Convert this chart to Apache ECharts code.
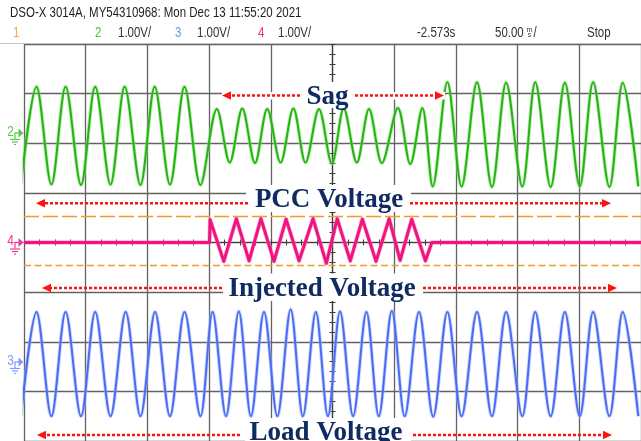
<!DOCTYPE html>
<html>
<head>
<meta charset="utf-8">
<script src="https://cdn.jsdelivr.net/npm/echarts@6/dist/echarts.min.js"></script>
<style>
  html, body { margin: 0; padding: 0; background: #ffffff; }
  #scope { width: 641px; height: 441px; }
</style>
</head>
<body>
<div id="scope"></div>
<script>
// Horizontal axis: time in ms (50 ms/div). Vertical axis: divisions (1.00 V/div).
// Each trace is listed as its turning points (time, volts relative to the channel ground).

// Channel 2 - PCC voltage (green)
const ch2Time = [-252.4, -239.9, -227.8, -216.3, -203.8, -192.3, -179.9, -168.4, -155.6, -144.1,
  -131.7, -119.9, -107.0, -93.7, -83.3, -73.1, -62.8, -52.9, -42.1, -31.7,
  -21.9, -11.0, -0.5, 9.1, 19.7, 29.6, 40.0, 53.0, 63.0, 72.8,
  81.2, 93.1, 104.6, 117.1, 129.2, 140.7, 153.8, 164.3, 176.8, 188.3,
  200.4, 211.2, 224.4, 235.2, 247.8];
const ch2Volts = [-0.99, 0.98, -0.99, 0.98, -1.00, 0.98, -0.99, 0.98, -1.00, 0.98,
  -0.99, 0.98, -1.00, 0.53, -0.55, 0.54, -0.56, 0.53, -0.55, 0.54,
  -0.55, 0.53, -0.57, 0.54, -0.55, 0.53, -0.56, 0.55, -0.58, 0.55,
  -1.03, 1.07, -1.03, 1.07, -1.04, 1.06, -1.03, 1.07, -1.04, 1.06,
  -1.03, 1.07, -1.04, 1.06, -1.03];

// Channel 4 - injected voltage (magenta)
const ch4Time = [-250, -99.7, -99.2, -88.1, -77.9, -67.6, -58.0, -47.4, -37.6, -27.1,
  -15.8, -5.0, 3.8, 14.4, 24.2, 35.3, 45.9, 54.8, 64.2, 75.3, 80.5, 250];
const ch4Volts = [0, 0, 0.46, -0.38, 0.48, -0.37, 0.48, -0.38, 0.47, -0.37,
  0.48, -0.42, 0.48, -0.37, 0.47, -0.38, 0.48, -0.36, 0.47, -0.37, 0, 0];

// Channel 3 - load voltage (blue)
const ch3Time = [-252.4, -239.9, -227.8, -216.3, -203.8, -192.3, -179.9, -167.6, -155.6, -143.8,
  -131.7, -119.9, -107.0, -97.2, -86.3, -75.9, -66.1, -55.5, -44.7, -33.9,
  -24.0, -13.5, -3.7, 6.1, 16.7, 27.5, 37.5, 48.1, 58.5, 70.1,
  81.6, 93.1, 104.6, 117.1, 129.2, 140.7, 153.8, 164.3, 176.8, 188.3,
  200.4, 211.2, 224.4, 235.2, 247.8];
const ch3Volts = [-1.05, 1.05, -1.05, 1.05, -1.05, 1.05, -1.05, 1.05, -1.05, 1.05,
  -1.05, 1.05, -1.05, 1.05, -1.05, 1.06, -1.05, 1.05, -1.05, 1.10,
  -1.05, 1.05, -1.05, 1.06, -1.05, 1.05, -1.05, 1.07, -1.05, 1.05,
  -1.06, 1.05, -1.05, 1.05, -1.05, 1.05, -1.05, 1.05, -1.05, 1.05,
  -1.05, 1.05, -1.05, 1.05, -1.05];

// Channel ground positions (divisions from screen centre)
const ch2Offset = 2.16;
const ch4Offset = 0;
const ch3Offset = -2.45;

// Channel 4 limit lines (divisions)
const ch4Limits = [0.52, -0.45];

// Header readouts
const headerTitle = 'DSO-X 3014A, MY54310968: Mon Dec 13 11:55:20 2021';
const channelScales = ['1.00V/', '1.00V/', '1.00V/'];
const timeDelay = '-2.573s';
const timeScale = '50.00';
const runState = 'Stop';

function trace(times, volts, offset) {
  return times.map((t, i) => [t, volts[i] + offset]);
}

const GRID = { left: 24, top: 44, width: 624, height: 398 };
const gridColor = '#626262';
const axisColor = '#3c3c3c';

const axisCommon = {
  type: 'value', min: -250, max: 250, interval: 50,
  axisLabel: { show: false }
};

const xAxes = [
  Object.assign({}, axisCommon, {
    position: 'bottom',
    axisLine: { show: true, onZero: true, lineStyle: { color: axisColor, width: 1.2 } },
    axisTick: { show: true, length: 3, lineStyle: { color: axisColor, width: 1 } },
    minorTick: { show: true, splitNumber: 4, length: 3, lineStyle: { color: axisColor, width: 1 } },
    splitLine: { show: true, lineStyle: { color: gridColor, width: 1.3 } }
  }),
  Object.assign({}, axisCommon, {
    position: 'top',
    axisLine: { show: false, onZero: true },
    axisTick: { show: true, length: 3, lineStyle: { color: axisColor, width: 1 } },
    minorTick: { show: true, splitNumber: 4, length: 3, lineStyle: { color: axisColor, width: 1 } },
    splitLine: { show: false }
  })
];

const yCommon = { type: 'value', min: -4, max: 4, interval: 1, axisLabel: { show: false } };
const yAxes = [
  Object.assign({}, yCommon, {
    position: 'left',
    axisLine: { show: true, onZero: true, lineStyle: { color: axisColor, width: 1.2 } },
    axisTick: { show: true, length: 3, lineStyle: { color: axisColor, width: 1 } },
    minorTick: { show: true, splitNumber: 5, length: 3, lineStyle: { color: axisColor, width: 1 } },
    splitLine: { show: true, lineStyle: { color: gridColor, width: 1.3 } }
  }),
  Object.assign({}, yCommon, {
    position: 'right',
    axisLine: { show: false, onZero: true },
    axisTick: { show: true, length: 3, lineStyle: { color: axisColor, width: 1 } },
    minorTick: { show: true, splitNumber: 5, length: 3, lineStyle: { color: axisColor, width: 1 } },
    splitLine: { show: false }
  })
];

function lineSeries(data, color, width, smooth, z, opacity) {
  return {
    type: 'line', data: data, xAxisIndex: 0, yAxisIndex: 0,
    showSymbol: false, symbol: 'none', smooth: smooth, silent: true,
    lineStyle: { color: color, width: width, opacity: opacity == null ? 1 : opacity, join: 'round' },
    z: z, animation: false
  };
}

const ch2Data = trace(ch2Time, ch2Volts, ch2Offset);
const ch3Data = trace(ch3Time, ch3Volts, ch3Offset);
const ch4Data = trace(ch4Time, ch4Volts, ch4Offset);

const ch4Main = lineSeries(ch4Data, '#ef1480', 3.0, false, 5);
ch4Main.markLine = {
  silent: true, symbol: 'none', animation: false,
  label: { show: false },
  data: [
    { yAxis: ch4Limits[0], lineStyle: { color: '#f39a2a', width: 1.4, type: [15, 4] } },
    { yAxis: ch4Limits[1], lineStyle: { color: '#f39a2a', width: 1.4, type: [7, 3.5] } }
  ]
};

const series = [
  lineSeries(ch2Data, '#8fdc82', 3.8, 0.32, 3, 0.55),
  lineSeries(ch2Data, '#22b510', 2.0, 0.32, 4),
  lineSeries(ch4Data, '#f57ab3', 4.4, false, 4, 0.55),
  ch4Main,
  lineSeries(ch3Data, '#a3b6fa', 3.8, 0.32, 3, 0.55),
  lineSeries(ch3Data, '#4a6cf4', 2.0, 0.32, 4)
];

// ---- overlay: header, channel markers, labels and arrows ----
const hdrFont = '14px "Liberation Sans", Arial, sans-serif';
const hdrScale = 0.82;
const smallFont = '7px "Liberation Sans", Arial, sans-serif';
const labelFont = 'bold 27px "Liberation Serif", "DejaVu Serif", serif';
const labelColor = '#0f2b62';
const arrowColor = '#ff1212';

function txt(text, x, y, font, fill, align, z, scaleX) {
  return {
    type: 'text', x: x, y: y, z: z || 120, silent: true, scaleX: scaleX || 1,
    style: { text: text, font: font, fill: fill, align: align || 'left', textAlign: align || 'left',
      verticalAlign: 'middle', textVerticalAlign: 'middle' }
  };
}

function hdr(text, x, y, fill) {
  return txt(text, x, y, hdrFont, fill, 'left', 120, hdrScale);
}

function whiteBox(x1, y1, x2, y2) {
  return { type: 'rect', z: 105, silent: true,
    shape: { x: x1, y: y1, width: x2 - x1, height: y2 - y1 }, style: { fill: '#ffffff' } };
}

function arrow(tailX, tipX, y) {
  const dir = tipX > tailX ? 1 : -1;
  const headLen = 9, half = 4.2;
  return [
    { type: 'line', z: 110, silent: true,
      shape: { x1: tailX, y1: y, x2: tipX - dir * headLen, y2: y },
      style: { stroke: arrowColor, lineWidth: 2.4, lineDash: [3, 2] } },
    { type: 'polygon', z: 111, silent: true,
      shape: { points: [[tipX, y], [tipX - dir * headLen, y - half], [tipX - dir * headLen, y + half]] },
      style: { fill: arrowColor } }
  ];
}

function channelMarker(label, y, color) {
  const s = { stroke: color, lineWidth: 1.2 };
  return [
    txt(label, 10.5, y - 1, '14px "Liberation Sans", sans-serif', color, 'center', 130, 0.85),
    { type: 'line', z: 130, silent: true, shape: { x1: 14.5, y1: y, x2: 19, y2: y }, style: s },
    { type: 'polygon', z: 130, silent: true, shape: { points: [[18.5, y - 4.5], [23.5, y], [18.5, y + 4.5]] }, style: { fill: color } },
    { type: 'line', z: 130, silent: true, shape: { x1: 15, y1: y, x2: 15, y2: y + 6 }, style: s },
    { type: 'line', z: 130, silent: true, shape: { x1: 10, y1: y + 6.5, x2: 20, y2: y + 6.5 }, style: s },
    { type: 'line', z: 130, silent: true, shape: { x1: 12, y1: y + 9, x2: 18, y2: y + 9 }, style: s },
    { type: 'line', z: 130, silent: true, shape: { x1: 14, y1: y + 11.5, x2: 16, y2: y + 11.5 }, style: s }
  ];
}

const graphics = [].concat(
  // header
  [
    { type: 'rect', z: 100, silent: true, shape: { x: 0, y: 0, width: 641, height: 43 }, style: { fill: '#ffffff' } },
    { type: 'line', z: 101, silent: true, shape: { x1: 0, y1: 43.5, x2: 641, y2: 43.5 }, style: { stroke: '#c4c4c4', lineWidth: 1 } },
    hdr(headerTitle, 10, 13.4, '#1e1e1e'),
    hdr('1', 13, 33.4, '#f7a53a'),
    hdr('2', 95, 33.4, '#4cc23a'),
    hdr(channelScales[0], 118, 33.4, '#333333'),
    hdr('3', 175, 33.4, '#6f8ff2'),
    hdr(channelScales[1], 197, 33.4, '#333333'),
    hdr('4', 258, 33.4, '#ef2a88'),
    hdr(channelScales[2], 278, 33.4, '#333333'),
    hdr(timeDelay, 417, 33.4, '#333333'),
    hdr(timeScale, 495, 33.4, '#333333'),
    txt('m', 529.5, 30, smallFont, '#333333', 'center'),
    txt('s', 529.5, 35.5, smallFont, '#333333', 'center'),
    hdr('/', 533.5, 33.4, '#333333'),
    hdr(runState, 587, 33.4, '#333333')
  ],
  // channel ground markers
  channelMarker('2', 133, '#5cc74c'),
  channelMarker('4', 242.5, '#ef3a90'),
  channelMarker('3', 362, '#7d9af4'),
  // Sag
  [whiteBox(222, 92, 445, 99.5), whiteBox(300, 82, 356, 108)],
  arrow(300, 222, 95.5), arrow(355, 444, 95.5),
  [txt('Sag', 327.5, 97, labelFont, labelColor, 'center')],
  // PCC Voltage
  [whiteBox(246, 185, 411, 212)],
  arrow(248, 36, 203.3), arrow(410, 611, 203.3),
  [txt('PCC Voltage', 329, 200, labelFont, labelColor, 'center')],
  // Injected Voltage
  [whiteBox(223, 273.5, 423, 301)],
  arrow(222, 42, 288), arrow(423, 617, 288),
  [txt('Injected Voltage', 322, 289, labelFont, labelColor, 'center')],
  // Load Voltage
  [whiteBox(245, 418, 411, 441)],
  arrow(240, 37, 435), arrow(413, 612, 435),
  [txt('Load Voltage', 326, 433.5, labelFont, labelColor, 'center')]
);

const chart = echarts.init(document.getElementById('scope'), null, { renderer: 'canvas' });
chart.setOption({
  animation: false,
  backgroundColor: '#ffffff',
  grid: Object.assign({ show: false, containLabel: false }, GRID),
  xAxis: xAxes,
  yAxis: yAxes,
  series: series,
  graphic: { elements: graphics }
});
</script>
</body>
</html>
